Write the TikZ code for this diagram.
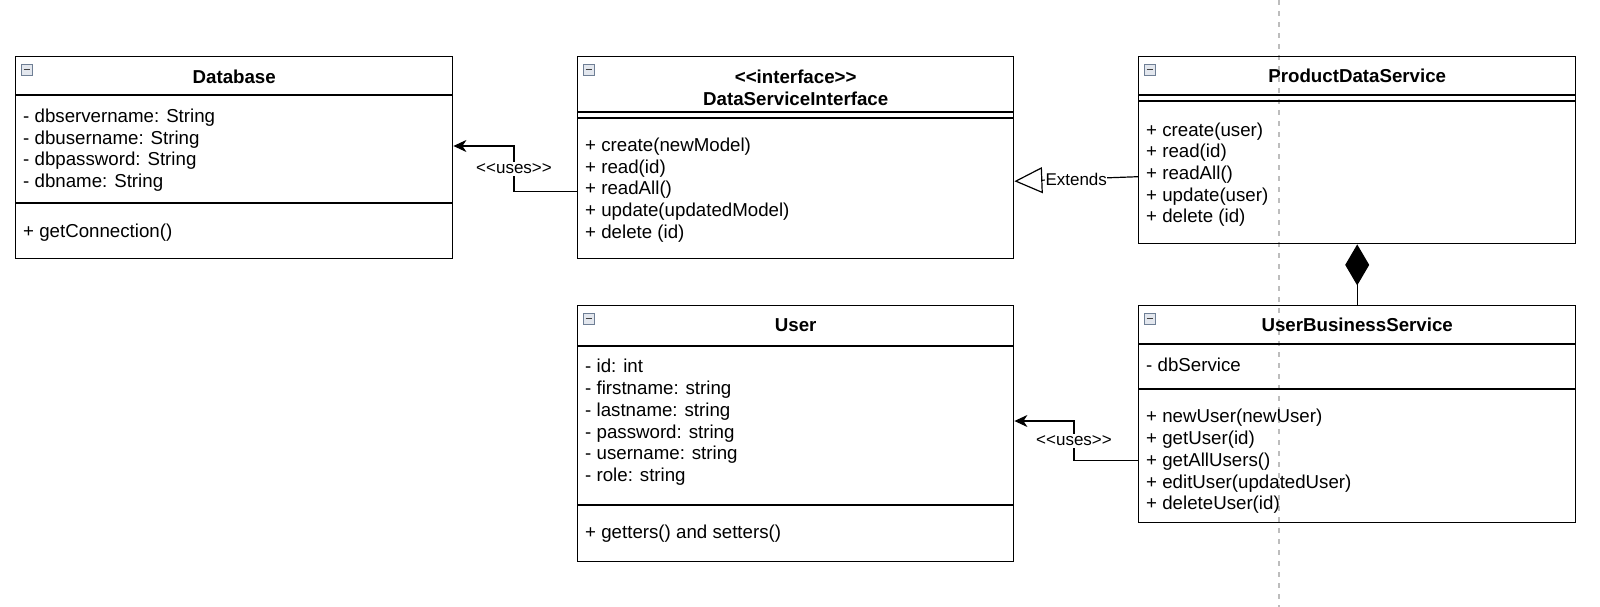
\documentclass[tikz,border=0pt]{standalone}
\usepackage{fontspec}
\setmainfont{Liberation Sans}
\usetikzlibrary{arrows.meta}

\definecolor{iconedge}{HTML}{6F7F95}
\definecolor{iconfill}{HTML}{E3E7EE}
\definecolor{guidegray}{HTML}{BDBDBD}

% << and >> kept apart, or the TeX mapping turns them into guillemets
\newcommand\stereo[1]{<\kern0pt<#1>\kern0pt>}

\tikzset{
  classbox/.style={draw, line width=1.4pt, anchor=north west, inner sep=0pt},
  classname/.style={font=\fontsize{18.7}{21.7}\selectfont\bfseries, inner sep=0pt, align=center},
  member/.style={anchor=west, inner xsep=8pt, inner ysep=0pt, text height=14pt, text depth=1pt},
  divider/.style={line width=1.4pt},
  icon/.style={draw=iconedge, fill=iconfill, line width=0.9pt, minimum size=11pt, inner sep=0pt,
    path picture={\draw[line width=1.5pt, black!75]
      ([xshift=2.2pt]path picture bounding box.west) -- ([xshift=-2.2pt]path picture bounding box.east);}},
  lbl/.style={fill=white, font=\fontsize{17}{20}\selectfont, inner xsep=1pt, inner ysep=2pt},
  uses/.style={line width=1.2pt, -{Stealth[length=13pt,width=12pt,inset=4pt]}},
  extends/.style={line width=1.2pt, -{Triangle[open,length=28pt,width=26pt]}},
  composes/.style={line width=1.2pt, -{Diamond[length=41pt,width=24pt]}},
  guide/.style={guidegray, line width=1.2pt, dash pattern=on 5pt off 6pt},
}

\begin{document}
\begin{tikzpicture}[x=1pt, y=-1pt, font=\fontsize{18.7}{21.7}\selectfont]
  \useasboundingbox (0,0) rectangle (1600,607);
  \draw[guide] (1279,0) -- (1279,607);

  % classes
  \node[classbox, minimum width=437pt, minimum height=202pt] (db) at (15,56) {};
  \node[classbox, minimum width=436pt, minimum height=202pt] (dsi) at (577,56) {};
  \node[classbox, minimum width=437pt, minimum height=187pt] (pds) at (1138,56) {};
  \node[classbox, minimum width=436pt, minimum height=256pt] (user) at (577,305) {};
  \node[classbox, minimum width=437pt, minimum height=217pt] (ubs) at (1138,305) {};

  \node[icon] (db-i) at ([xshift=12pt,yshift=-13.5pt]db.north west) {};
  \node[icon] (dsi-i) at ([xshift=12pt,yshift=-13.5pt]dsi.north west) {};
  \node[icon] (pds-i) at ([xshift=12pt,yshift=-13.5pt]pds.north west) {};
  \node[icon] (user-i) at ([xshift=12pt,yshift=-13.5pt]user.north west) {};
  \node[icon] (ubs-i) at ([xshift=12pt,yshift=-13.5pt]ubs.north west) {};

  % Database
  \node[classname] (db-t) at (db.north |- 0,77) {Database};
  \draw[divider] (db.west |- 0,95) -- (db.east |- 0,95);
  \node[member] (db-a1) at (db.west |- 0,116) {- dbservername: String};
  \node[member] (db-a2) at (db.west |- 0,138) {- dbusername: String};
  \node[member] (db-a3) at (db.west |- 0,159) {- dbpassword: String};
  \node[member] (db-a4) at (db.west |- 0,181) {- dbname: String};
  \draw[divider] (db.west |- 0,203) -- (db.east |- 0,203);
  \node[member] (db-m1) at (db.west |- 0,231) {+ getConnection()};

  % DataServiceInterface
  \node[classname] (dsi-t) at (dsi.north |- 0,87.5) {\stereo{interface}\\DataServiceInterface};
  \draw[divider] (dsi.west |- 0,112) -- (dsi.east |- 0,112);
  \draw[divider] (dsi.west |- 0,118) -- (dsi.east |- 0,118);
  \node[member] (dsi-m1) at (dsi.west |- 0,145) {+ create(newModel)};
  \node[member] (dsi-m2) at (dsi.west |- 0,167) {+ read(id)};
  \node[member] (dsi-m3) at (dsi.west |- 0,188) {+ readAll()};
  \node[member] (dsi-m4) at (dsi.west |- 0,210) {+ update(updatedModel)};
  \node[member] (dsi-m5) at (dsi.west |- 0,232) {+ delete (id)};

  % ProductDataService
  \node[classname] (pds-t) at (pds.north |- 0,76) {ProductDataService};
  \draw[divider] (pds.west |- 0,95) -- (pds.east |- 0,95);
  \draw[divider] (pds.west |- 0,101) -- (pds.east |- 0,101);
  \node[member] (pds-m1) at (pds.west |- 0,130) {+ create(user)};
  \node[member] (pds-m2) at (pds.west |- 0,151) {+ read(id)};
  \node[member] (pds-m3) at (pds.west |- 0,173) {+ readAll()};
  \node[member] (pds-m4) at (pds.west |- 0,195) {+ update(user)};
  \node[member] (pds-m5) at (pds.west |- 0,216) {+ delete (id)};

  % User
  \node[classname] (user-t) at (user.north |- 0,325) {User};
  \draw[divider] (user.west |- 0,346) -- (user.east |- 0,346);
  \node[member] (user-a1) at (user.west |- 0,366) {- id: int};
  \node[member] (user-a2) at (user.west |- 0,388) {- firstname: string};
  \node[member] (user-a3) at (user.west |- 0,410) {- lastname: string};
  \node[member] (user-a4) at (user.west |- 0,432) {- password: string};
  \node[member] (user-a5) at (user.west |- 0,453) {- username: string};
  \node[member] (user-a6) at (user.west |- 0,475) {- role: string};
  \draw[divider] (user.west |- 0,505) -- (user.east |- 0,505);
  \node[member] (user-m1) at (user.west |- 0,532) {+ getters() and setters()};

  % UserBusinessService
  \node[classname] (ubs-t) at (ubs.north |- 0,325) {UserBusinessService};
  \draw[divider] (ubs.west |- 0,344) -- (ubs.east |- 0,344);
  \node[member] (ubs-a1) at (ubs.west |- 0,365) {- dbService};
  \draw[divider] (ubs.west |- 0,389) -- (ubs.east |- 0,389);
  \node[member] (ubs-m1) at (ubs.west |- 0,416) {+ newUser(newUser)};
  \node[member] (ubs-m2) at (ubs.west |- 0,438) {+ getUser(id)};
  \node[member] (ubs-m3) at (ubs.west |- 0,460) {+ getAllUsers()};
  \node[member] (ubs-m4) at (ubs.west |- 0,482) {+ editUser(updatedUser)};
  \node[member] (ubs-m5) at (ubs.west |- 0,503) {+ deleteUser(id)};

  % relations
  \coordinate (u1) at (514,146);
  \coordinate (u2) at (1074,421);
  \draw[uses] ([yshift=-34pt]dsi.west) -| node[lbl, pos=0.75] (l1) {\stereo{uses}} (u1) -- (db.east |- u1);
  \draw[uses] ([yshift=-46.5pt]ubs.west) -| node[lbl, pos=0.75] (l2) {\stereo{uses}} (u2) -- (user.east |- u2);
  \draw[extends] ([yshift=-26.5pt]pds.west) -- node[lbl, inner xsep=0.5pt, pos=0.5] (l3) {Extends} ([yshift=-23.5pt]dsi.east);
  \draw[composes] (ubs.north) -- (pds.south);
\end{tikzpicture}
\end{document}
